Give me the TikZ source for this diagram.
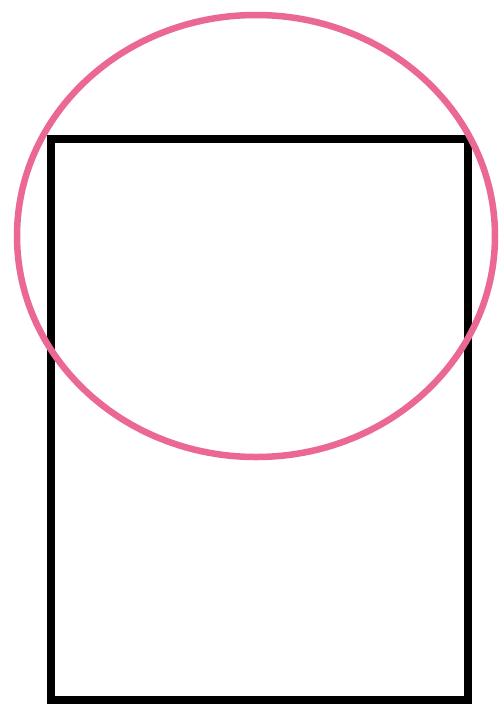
\documentclass[tikz,border=0pt]{standalone}
\definecolor{ringpink}{RGB}{234,104,146}
\begin{document}
\begin{tikzpicture}[x=1pt,y=-1pt,
  boxline/.style={draw=black,line width=8pt,line join=miter},
  ringline/.style={draw=ringpink,line width=6.5pt}]
\useasboundingbox (0,0) rectangle (502,705);
\fill[white] (0,0) rectangle (502,705);
\draw[boxline] (51,139) rectangle (468,700);
\draw[ringline] (256,236) ellipse [x radius=239, y radius=221];
\end{tikzpicture}
\end{document}
